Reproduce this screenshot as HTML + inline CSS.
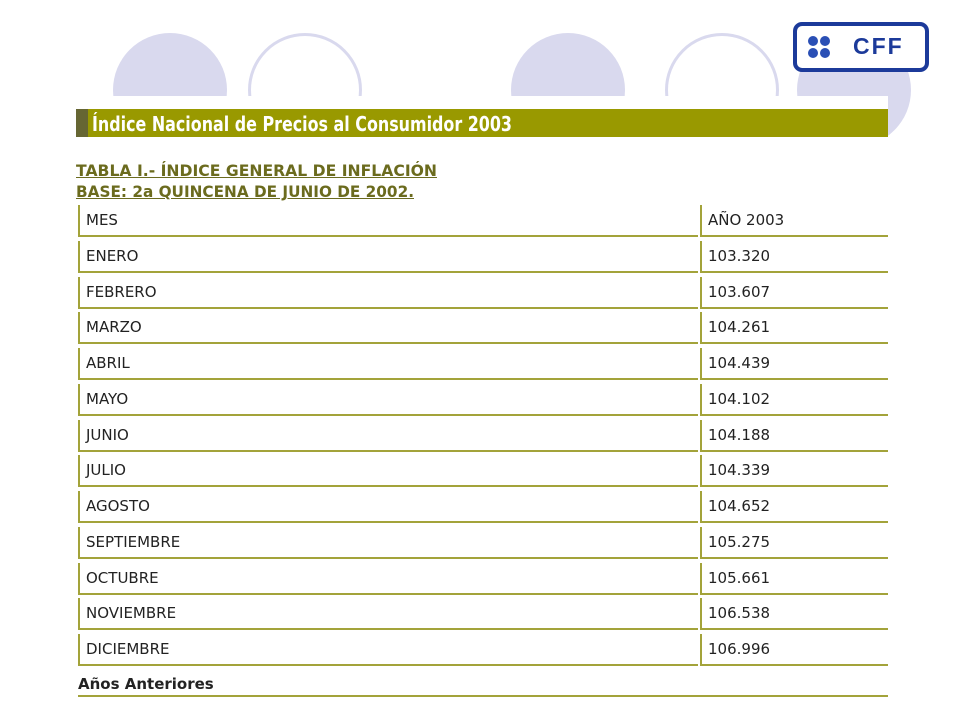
<!DOCTYPE html>
<html><head><meta charset="utf-8">
<style>
body{margin:0;width:960px;height:720px;background:#fff;position:relative;overflow:hidden;font-family:"DejaVu Sans","Liberation Sans",sans-serif;}
.abs{position:absolute;}
.circ{position:absolute;border-radius:50%;box-sizing:border-box;}
.cell{position:absolute;box-sizing:border-box;border-left:2px solid #a3a33a;border-bottom:2px solid #a3a33a;font-size:15px;color:#222;padding-left:6px;line-height:30px;}
.fit{position:absolute;white-space:nowrap;transform-origin:0 0;}
</style></head><body>
<div class="circ" style="left:113px;top:33px;width:114px;height:114px;background:#d9d9ee;"></div>
<div class="circ" style="left:248px;top:33px;width:114px;height:114px;border:3px solid #d9d9ee;"></div>
<div class="circ" style="left:511px;top:33px;width:114px;height:114px;background:#d9d9ee;"></div>
<div class="circ" style="left:665px;top:33px;width:114px;height:114px;border:3px solid #d9d9ee;"></div>
<div class="circ" style="left:797px;top:33px;width:114px;height:114px;background:#d9d9ee;"></div>
<div class="abs" style="left:793px;top:22px;width:136px;height:50px;box-sizing:border-box;border:4px solid #1c3a9a;border-radius:9px;background:#fff;">
  <svg class="abs" style="left:8px;top:8px" width="30" height="28">
    <circle cx="8" cy="7" r="5" fill="#2a4fb5"/><circle cx="20" cy="7" r="5" fill="#2a4fb5"/>
    <circle cx="8" cy="19" r="5" fill="#2a4fb5"/><circle cx="20" cy="19" r="5" fill="#2a4fb5"/>
  </svg>
  <div class="abs" style="left:56px;top:7px;font:bold 23px 'Liberation Sans',sans-serif;color:#1c3a9a;letter-spacing:2px;">CFF</div>
</div>
<div class="abs" style="left:68px;top:96px;width:820px;height:610px;background:#fff;"></div>
<div class="abs" style="left:76px;top:109px;width:812px;height:28px;background:#999900;"></div>
<div class="abs" style="left:76px;top:109px;width:12px;height:28px;background:#666633;"></div>
<div class="fit" data-w="420" style="left:92px;top:110px;font-size:20px;font-weight:bold;line-height:28px;color:#fff;">Índice Nacional de Precios al Consumidor 2003</div>
<div class="fit" data-w="361" style="left:76px;top:160px;font-size:16px;font-weight:bold;color:#6b6b1e;text-decoration:underline;line-height:21px;">TABLA I.- ÍNDICE GENERAL DE INFLACIÓN</div>
<div class="fit" data-w="338" style="left:76px;top:181px;font-size:16px;font-weight:bold;color:#6b6b1e;text-decoration:underline;line-height:21px;">BASE: 2a QUINCENA DE JUNIO DE 2002.</div>
<div id="tbl"></div>
<div class="abs" style="left:78px;top:673px;width:810px;height:24px;box-sizing:border-box;border-bottom:2px solid #a3a33a;font-size:15px;font-weight:bold;color:#222;line-height:22px;">Años Anteriores</div>
<script>
const months=["ENERO","FEBRERO","MARZO","ABRIL","MAYO","JUNIO","JULIO","AGOSTO","SEPTIEMBRE","OCTUBRE","NOVIEMBRE","DICIEMBRE"];
const values=["103.320","103.607","104.261","104.439","104.102","104.188","104.339","104.652","105.275","105.661","106.538","106.996"];
const tbl=document.getElementById('tbl');
const rows=[["MES","AÑO 2003"]].concat(months.map((m,i)=>[m,values[i]]));
rows.forEach((r,i)=>{
  const top=205+i*35.75;
  const a=document.createElement('div');
  a.className='cell';
  
  
  a.style.cssText=`left:78px;top:${top}px;width:620px;height:32px;`;
  a.textContent=r[0];
  tbl.appendChild(a);
  const b=document.createElement('div');
  b.className='cell';
  
  
  b.style.cssText=`left:700px;top:${top}px;width:188px;height:32px;`;
  b.textContent=r[1];
  tbl.appendChild(b);
});
document.querySelectorAll('.fit').forEach(el=>{
  const w=el.getBoundingClientRect().width;
  el.style.transform='scaleX('+(parseFloat(el.dataset.w)/w)+')';
});
</script>
</body></html>
